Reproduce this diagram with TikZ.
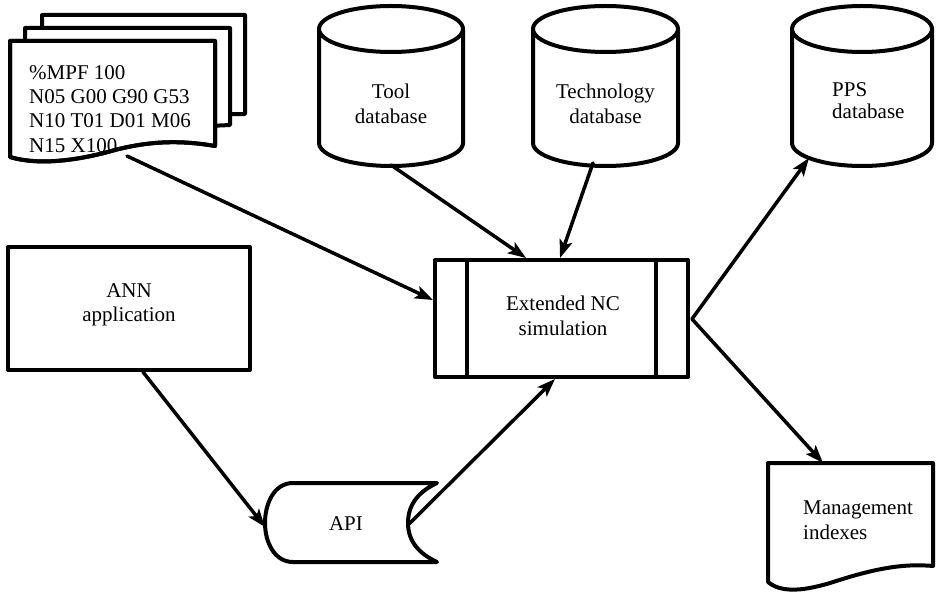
\documentclass[tikz,border=0pt]{standalone}
\usepackage{fontspec}
\setmainfont{Liberation Serif}
\usetikzlibrary{arrows.meta,calc}

% database drum: #1 left edge, #2 right edge
\newcommand\dbcyl[2]{%
  \pgfmathsetmacro\cylcx{(#1+#2)/2}%
  \pgfmathsetmacro\cylrx{(#2-#1)/2}%
  \draw[outline] (#1,29) -- (#1,143)
    arc[start angle=180, end angle=0, x radius=\cylrx, y radius=23] -- (#2,29);
  \draw[outline] (\cylcx,29) ellipse[x radius=\cylrx, y radius=23];
}

\begin{document}
\begin{tikzpicture}[x=1pt, y=-1pt,
  outline/.style={draw, line width=4pt, fill=white, line join=round},
  conn/.style={line width=3.5pt, line cap=round,
    -{Stealth[length=18pt, width=13pt, inset=4pt]}},
  lbl/.style={font=\fontsize{21}{24.5}\selectfont, align=center, inner sep=0pt},
  codeline/.style={font=\fontsize{21}{24}\selectfont, inner sep=0pt, anchor=base west}]

\useasboundingbox[fill=white] (0,0) rectangle (936,593);

% ---------- NC program sheets ----------
\draw[outline] (42,15) -- (245,15) -- (245,114) -- (42,118) -- cycle;
\draw[outline] (25,28) -- (230,28) -- (230,125) -- (25,135) -- cycle;
\path[outline] (10,41) -- (215,41) -- (215,146)
  .. controls (180,140) and (150,141) .. (115,150)
  .. controls (80,160) and (40,166) .. (10,157) -- cycle;
\begin{scope}
  \clip (10,41) -- (215,41) -- (215,146)
    .. controls (180,140) and (150,141) .. (115,150)
    .. controls (80,160) and (40,166) .. (10,157) -- cycle;
  \node[codeline] (code1) at (29,80) {\%MPF 100};
  \node[codeline] (code2) at (29,104) {N05 G00 G90 G53};
  \node[codeline] (code3) at (29,128) {N10 T01 D01 M06};
  \node[codeline] (code4) at (29,153) {N15 X100};
\end{scope}
\draw[line width=4pt, line join=round] (10,41) -- (215,41) -- (215,146)
  .. controls (180,140) and (150,141) .. (115,150)
  .. controls (80,160) and (40,166) .. (10,157) -- cycle;
\coordinate (docout) at (127,156);

% ---------- databases ----------
\dbcyl{319}{463}
\node[lbl] (tool) at (391,104) {Tool\\database};
\coordinate (toolout) at (391,165);

\dbcyl{533}{678}
\node[lbl] (tech) at (605.5,104) {Technology\\database};
\coordinate (techout) at (593,163);

\dbcyl{792}{932}
\node[lbl, align=left, anchor=west,
      font=\fontsize{21}{22}\selectfont] (pps) at (832,101) {PPS\\database};
\coordinate (ppsin) at (809,158);

% ---------- simulation block ----------
\node[outline, minimum width=253, minimum height=117, inner sep=0pt]
  (nc) at (561.5,318.5) {};
\draw[line width=4pt] (467,260) -- (467,377) (656,260) -- (656,377);
\node[lbl] (nctext) at (563,316) {Extended NC\\simulation};

% ---------- ANN application ----------
\node[outline, minimum width=242, minimum height=123, inner sep=0pt]
  (ann) at (129,308.5) {};
\node[lbl] (anntext) at (129,305) {ANN\\application};

% ---------- API ----------
\draw[outline] (293,483) -- (437,483)
  to[out=205, in=90] (408,523) to[out=270, in=155] (437,562)
  -- (293,562) to[out=180, in=270] (265,523) to[out=90, in=180] (293,483) -- cycle;
\node[lbl] (api) at (346,524) {API};

% ---------- Management indexes ----------
\draw[outline] (768,463) -- (933,463) -- (933,566)
  .. controls (900,563) and (870,570) .. (830,583)
  .. controls (800,592) and (780,592) .. (768,582) -- cycle;
\node[lbl, align=left, anchor=west] (mgmt) at (803,520) {Management\\indexes};

% ---------- connectors ----------
\draw[conn] (docout) -- ($(nc.north west)+(0,42)$);
\draw[conn] (toolout) -- ($(nc.north west)+(93,0)$);
\draw[conn] (techout) -- ($(nc.north west)+(127,0)$);
\draw[conn] ($(nc.south east)+(2,-60)$) -- (ppsin);
\draw[conn] ($(nc.south east)+(2,-60)$) -- ($(mgmt.west |- 0,463)+(20,0)$);
\draw[conn] (ann.south) ++(14,0) -- (265,527);
\draw[conn] (409,524) -- ($(nc.south west)+(122,0)$);

\end{tikzpicture}
\end{document}
